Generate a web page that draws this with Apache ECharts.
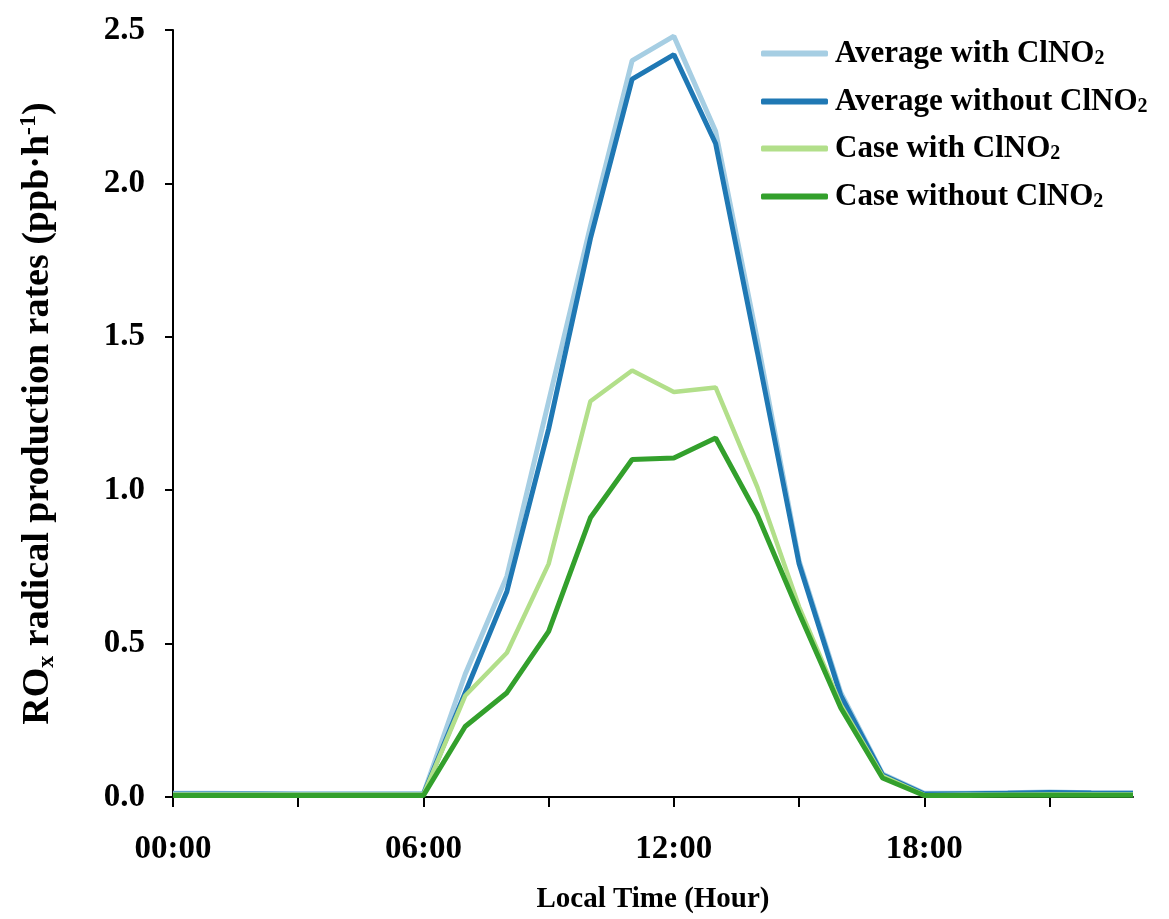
<!DOCTYPE html>
<html>
<head>
<meta charset="utf-8">
<title>ROx radical production rates</title>
<script src="https://cdn.jsdelivr.net/npm/echarts@6/dist/echarts.min.js"></script>
<style>
  html, body {
    margin: 0;
    padding: 0;
    background: #fff;
  }
  #chart_rox {
    width: 1169px;
    height: 919px;
  }
</style>
</head>
<body>
<div id="chart_rox"></div>
<script>
// local hour of day
const hours = [0, 1, 2, 3, 4, 5, 6, 7, 8, 9, 10, 11, 12, 13, 14, 15, 16, 17, 18, 19, 20, 21, 22, 23];

// ROx production rates (ppb/h)
const avgWith = [0.012, 0.012, 0.011, 0.010, 0.010, 0.010, 0.010, 0.40, 0.72, 1.29, 1.86, 2.40, 2.48, 2.17, 1.49, 0.77, 0.34, 0.075, 0.012, 0.012, 0.014, 0.016, 0.014, 0.013];
const avgWithout = [0.010, 0.010, 0.010, 0.009, 0.009, 0.009, 0.009, 0.34, 0.67, 1.20, 1.82, 2.34, 2.42, 2.13, 1.45, 0.76, 0.33, 0.072, 0.010, 0.011, 0.012, 0.015, 0.013, 0.012];
const caseWith = [0.008, 0.008, 0.008, 0.008, 0.008, 0.008, 0.008, 0.33, 0.47, 0.76, 1.29, 1.39, 1.32, 1.335, 1.01, 0.62, 0.30, 0.068, 0.006, 0.007, 0.007, 0.008, 0.008, 0.008];
const caseWithout = [0.005, 0.005, 0.005, 0.005, 0.005, 0.005, 0.005, 0.23, 0.34, 0.54, 0.91, 1.10, 1.105, 1.17, 0.92, 0.60, 0.29, 0.062, 0.005, 0.005, 0.006, 0.006, 0.006, 0.006];

const seriesNames = ['Average with ClNO2', 'Average without ClNO2', 'Case with ClNO2', 'Case without ClNO2'];
const seriesColors = ['#a6cee3', '#1f78b4', '#b2df8a', '#33a02c'];
const seriesData = [avgWith, avgWithout, caseWith, caseWithout];

// axis ticks / labels
const xTicks = [0, 3, 6, 9, 12, 15, 18, 21];
const xLabels = [0, 6, 12, 18];
const yTicks = [0, 0.5, 1.0, 1.5, 2.0, 2.5];

const serif = '"Liberation Serif", "Times New Roman", serif';

let myChart = echarts.init(document.getElementById('chart_rox'));

let legendRich = {
  a: { fontFamily: serif, fontWeight: 'bold', fontSize: 31, color: '#000', lineHeight: 30, verticalAlign: 'middle' },
  s: { fontFamily: serif, fontWeight: 'bold', fontSize: 20, color: '#000', lineHeight: 16, verticalAlign: 'bottom' }
};

let legendTops = [33, 81, 128, 176];

let option = {
  backgroundColor: '#fff',
  animation: false,
  grid: {
    left: 173,
    right: 36,
    top: 30,
    bottom: 122
  },
  legend: seriesNames.map((name, i) => ({
    data: [name],
    left: 756,
    top: legendTops[i],
    icon: 'roundRect',
    itemWidth: 67,
    itemHeight: 6,
    itemGap: 0,
    formatter: (n) => '{a|' + n.replace('ClNO2', 'ClNO') + '}{s|2}',
    textStyle: {
      rich: legendRich,
      padding: [0, 0, 0, 2]
    }
  })),
  xAxis: {
    type: 'value',
    min: 0,
    max: 23,
    interval: 3,
    name: 'Local Time (Hour)',
    nameLocation: 'middle',
    nameGap: 88,
    nameTextStyle: {
      fontFamily: serif,
      fontWeight: 'bold',
      fontSize: 29,
      color: '#000'
    },
    splitLine: { show: false },
    axisLine: {
      show: true,
      onZero: false,
      lineStyle: { color: '#000', width: 2 }
    },
    axisTick: {
      show: true,
      length: 10,
      customValues: xTicks,
      lineStyle: { color: '#000', width: 2 }
    },
    axisLabel: {
      customValues: xLabels,
      margin: 36,
      fontFamily: serif,
      fontWeight: 'bold',
      fontSize: 33,
      color: '#000',
      formatter: (v) => (v < 10 ? '0' + v : '' + v) + ':00'
    }
  },
  yAxis: {
    type: 'value',
    min: 0,
    max: 2.5,
    interval: 0.5,
    name: '{a|RO}{s|x}{a| radical production rates (ppb·h}{p|-1}{a|)}',
    nameLocation: 'middle',
    nameGap: 114,
    nameTextStyle: {
      rich: {
        a: { fontFamily: serif, fontWeight: 'bold', fontSize: 38, color: '#000', lineHeight: 42, verticalAlign: 'middle' },
        s: { fontFamily: serif, fontWeight: 'bold', fontSize: 24, color: '#000', lineHeight: 22, verticalAlign: 'bottom' },
        p: { fontFamily: serif, fontWeight: 'bold', fontSize: 24, color: '#000', lineHeight: 22, verticalAlign: 'top' }
      }
    },
    splitLine: { show: false },
    axisLine: {
      show: true,
      lineStyle: { color: '#000', width: 2 }
    },
    axisTick: {
      show: true,
      length: 8,
      customValues: yTicks,
      lineStyle: { color: '#000', width: 2 }
    },
    axisLabel: {
      customValues: yTicks,
      margin: 28,
      fontFamily: serif,
      fontWeight: 'bold',
      fontSize: 33,
      color: '#000',
      formatter: (v) => v.toFixed(1)
    }
  },
  series: seriesNames.map((name, i) => ({
    name: name,
    type: 'line',
    data: hours.map((h, j) => [h, seriesData[i][j]]),
    showSymbol: false,
    symbol: 'none',
    color: seriesColors[i],
    lineStyle: {
      color: seriesColors[i],
      width: i === 2 ? 4.5 : 5
    }
  }))
};

myChart.setOption(option, true);

window.addEventListener('resize', () => {
  myChart.resize();
});
</script>
</body>
</html>
